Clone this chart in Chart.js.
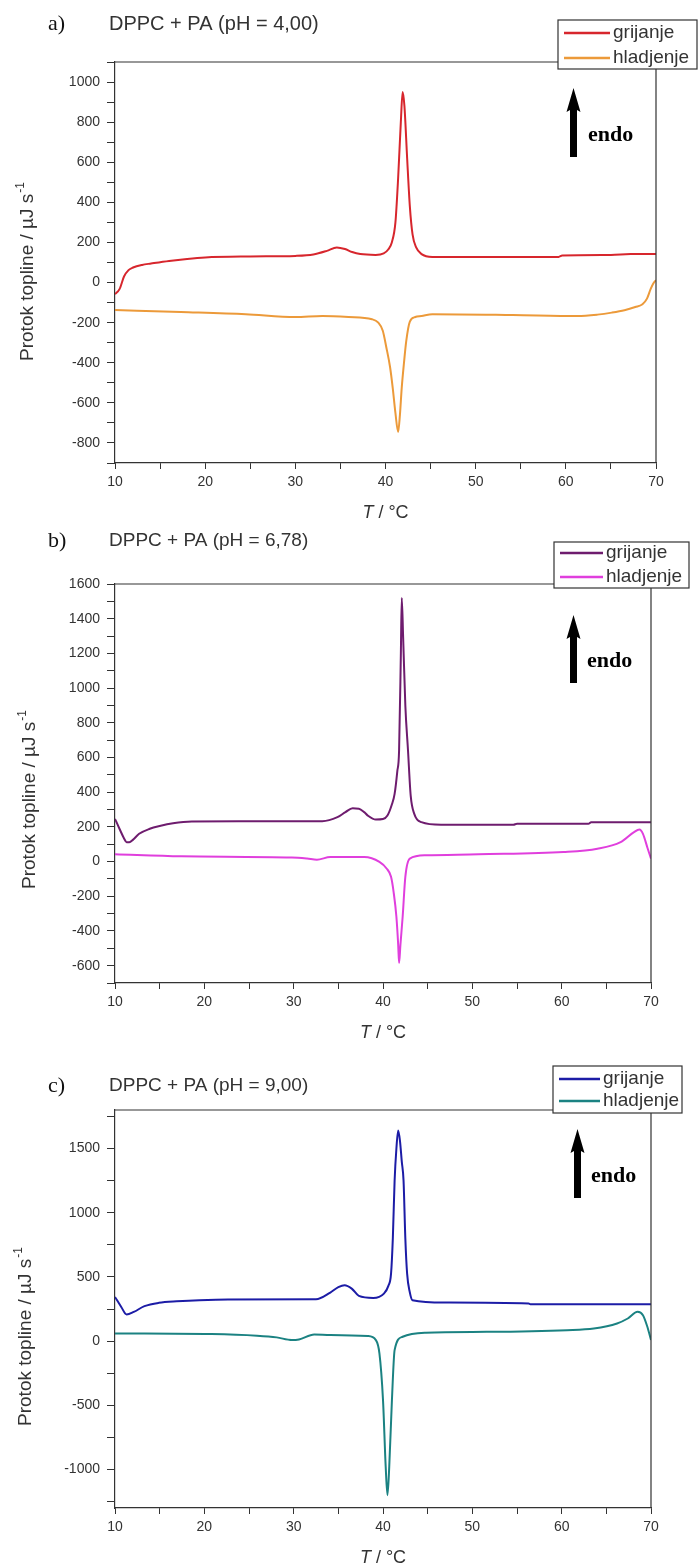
<!DOCTYPE html>
<html>
<head>
<meta charset="utf-8">
<script src="https://cdn.jsdelivr.net/npm/chart.js@4.4.0/dist/chart.umd.min.js"></script>
<style>
  body { margin: 0; background: #fff; }
  #wrap { position: relative; width: 699px; height: 1566px; }
  canvas { position: absolute; left: 0; }
</style>
</head>
<body>
<div id="wrap">
  <canvas id="chartA" width="699" height="522" style="top:0px"></canvas>
  <canvas id="chartB" width="699" height="522" style="top:522px"></canvas>
  <canvas id="chartC" width="699" height="522" style="top:1044px"></canvas>
</div>
<script>
// T / °C ticks, shared by all panels
var xTicks = [10, 15, 20, 25, 30, 35, 40, 45, 50, 55, 60, 65, 70];

// a) pH 4,00
var aHeatT = [10, 10.5, 11, 11.5, 12, 13, 14, 16, 18, 20, 25, 30, 32, 33.5, 34.6, 35.5, 36.3, 37.2, 38.9, 39.8, 40.3, 40.7, 41.1, 41.4, 41.7, 41.9, 42.1, 42.4, 42.7, 43, 43.4, 44, 45.2, 50, 59.2, 59.6, 65, 67.2, 70];
var aHeatQ = [-58, -33, 30, 62, 75, 88, 95, 108, 118, 125, 130, 133, 140, 158, 175, 167, 152, 142, 138, 145, 165, 200, 300, 520, 800, 950, 880, 620, 380, 240, 175, 142, 128, 127, 128, 135, 138, 142, 142];
var aCoolT = [10, 17.3, 24.5, 30, 33, 35.9, 38.5, 39.2, 39.7, 40.1, 40.5, 40.8, 41.1, 41.4, 41.6, 41.8, 42.05, 42.3, 42.7, 43.3, 44, 45.2, 54.1, 61.3, 63.5, 65.1, 66.5, 67.7, 68.5, 69, 69.4, 69.7, 70];
var aCoolQ = [-137, -147, -158, -172, -167, -172, -183, -200, -240, -325, -420, -525, -650, -745, -660, -525, -400, -292, -195, -172, -167, -158, -162, -167, -160, -150, -138, -122, -108, -80, -33, -5, 12];
var aYTicks = [-900, -800, -700, -600, -500, -400, -300, -200, -100, 0, 100, 200, 300, 400, 500, 600, 700, 800, 900, 1000, 1100];

// b) pH 6,78
var bHeatT = [10, 10.5, 11, 11.3, 11.6, 12, 12.7, 13.9, 15, 16.5, 18.6, 25, 33.2, 34.9, 35.8, 36.6, 37.3, 37.9, 38.3, 39.2, 40, 40.5, 41, 41.3, 41.6, 41.8, 42, 42.1, 42.25, 42.5, 42.8, 43.1, 43.5, 44.3, 46.5, 54.6, 55, 63, 63.3, 70];
var bHeatQ = [246, 189, 135, 112, 112, 125, 160, 189, 205, 221, 231, 232, 233, 256, 285, 307, 305, 285, 265, 242, 245, 265, 330, 390, 520, 640, 1200, 1520, 1300, 900, 640, 380, 275, 227, 212, 212, 218, 218, 227, 227];
var bCoolT = [10, 17.4, 29.8, 31.5, 32.6, 34.1, 37.9, 39.6, 40.4, 40.9, 41.2, 41.5, 41.7, 41.8, 41.95, 42.2, 42.5, 43, 44.8, 50.7, 60.2, 64, 66.6, 68.1, 68.7, 69.1, 69.6, 70];
var bCoolQ = [42, 30, 23, 17, 11, 26, 26, -2, -40, -88, -180, -318, -480, -585, -480, -318, -88, 17, 36, 42, 55, 74, 112, 170, 185, 160, 80, 17];
var bYTicks = [-700, -600, -500, -400, -300, -200, -100, 0, 100, 200, 300, 400, 500, 600, 700, 800, 900, 1000, 1100, 1200, 1300, 1400, 1500, 1600];

// c) pH 9,00
var cHeatT = [10, 10.7, 11.3, 12.1, 13.3, 14.9, 16.9, 21.3, 32.5, 34.1, 35, 35.7, 36.5, 37.3, 38.9, 40.1, 40.6, 40.9, 41.1, 41.3, 41.5, 41.7, 41.9, 42.1, 42.3, 42.5, 42.7, 43, 43.3, 46.9, 56.3, 56.5, 70];
var cHeatQ = [344, 266, 207, 227, 272, 298, 310, 323, 326, 378, 420, 435, 409, 352, 336, 370, 430, 525, 800, 1250, 1500, 1640, 1560, 1400, 1250, 800, 525, 380, 318, 300, 292, 287, 287];
var cCoolT = [10, 20.8, 25.9, 28.1, 29.8, 30.6, 32.3, 34.1, 38.3, 39.2, 39.6, 40, 40.3, 40.5, 40.7, 41, 41.3, 42.2, 44.8, 51.6, 60.6, 63.6, 66.2, 67.4, 68.5, 69.1, 69.6, 70];
var cCoolQ = [60, 55, 42, 29, 8, 13, 52, 47, 39, 8, -96, -458, -976, -1200, -976, -458, -70, 34, 65, 72, 85, 98, 137, 176, 228, 202, 110, 8];
var cYTicks = [-1250, -1000, -750, -500, -250, 0, 250, 500, 750, 1000, 1250, 1500, 1750];

var seriesNames = ['grijanje', 'hladjenje'];

function pts(ts, qs) {
  return ts.map((t, i) => ({ x: t, y: qs[i] }));
}

// titles, frame, legend box and the "endo" arrow
const decorPlugin = {
  id: 'decor',
  afterDraw(chart, args, o) {
    const ctx = chart.ctx;
    const a = chart.chartArea;
    ctx.save();

    ctx.strokeStyle = '#333';
    ctx.lineWidth = 1.2;
    ctx.beginPath();
    ctx.moveTo(a.left, a.top);
    ctx.lineTo(a.right, a.top);
    ctx.lineTo(a.right, a.bottom);
    ctx.stroke();

    ctx.textBaseline = 'middle';
    ctx.textAlign = 'left';
    ctx.fillStyle = '#111';
    ctx.font = '22px "Liberation Serif"';
    ctx.fillText(o.label, 48, o.titleY);
    ctx.fillStyle = '#333';
    ctx.font = o.titleSize + 'px "Liberation Sans"';
    ctx.fillText(o.title, 109, o.titleY);

    // x title, T in italics
    ctx.font = 'italic 18px "Liberation Sans"';
    let w1 = ctx.measureText('T').width;
    ctx.font = '18px "Liberation Sans"';
    let w2 = ctx.measureText(' / °C').width;
    let x0 = (a.left + a.right) / 2 - (w1 + w2) / 2;
    ctx.font = 'italic 18px "Liberation Sans"';
    ctx.fillText('T', x0, o.xTitleY);
    ctx.font = '18px "Liberation Sans"';
    ctx.fillText(' / °C', x0 + w1, o.xTitleY);

    // y title with superscript
    ctx.save();
    ctx.translate(o.yTitleX, o.yTitleY);
    ctx.rotate(-Math.PI / 2);
    ctx.font = '19px "Liberation Sans"';
    let main = 'Protok topline / µJ s';
    let mw = ctx.measureText(main).width;
    ctx.font = '12px "Liberation Sans"';
    let sw = ctx.measureText('-1').width;
    let sx = -(mw + sw) / 2;
    ctx.font = '19px "Liberation Sans"';
    ctx.fillText(main, sx, 0);
    ctx.font = '12px "Liberation Sans"';
    ctx.fillText('-1', sx + mw + 1, -7);
    ctx.restore();

    // legend
    const L = o.legend;
    ctx.fillStyle = '#fff';
    ctx.fillRect(L.x, L.y, L.w, L.h);
    ctx.strokeStyle = '#333';
    ctx.lineWidth = 1.2;
    ctx.strokeRect(L.x, L.y, L.w, L.h);
    ctx.font = '19px "Liberation Sans"';
    chart.data.datasets.forEach((ds, i) => {
      let ry = L.y + L.rows[i];
      ctx.strokeStyle = ds.borderColor;
      ctx.lineWidth = 2.5;
      ctx.beginPath();
      ctx.moveTo(L.x + 6, ry);
      ctx.lineTo(L.x + L.sw, ry);
      ctx.stroke();
      ctx.fillStyle = '#333';
      ctx.fillText(ds.label, L.x + L.sw + 3, ry);
    });

    // endo arrow
    const E = o.arrow;
    ctx.fillStyle = '#000';
    ctx.beginPath();
    ctx.moveTo(E.x, E.tip);
    ctx.lineTo(E.x + 7, E.tip + 24);
    ctx.lineTo(E.x + 3.5, E.tip + 22);
    ctx.lineTo(E.x + 3.5, E.bottom);
    ctx.lineTo(E.x - 3.5, E.bottom);
    ctx.lineTo(E.x - 3.5, E.tip + 22);
    ctx.lineTo(E.x - 7, E.tip + 24);
    ctx.closePath();
    ctx.fill();
    ctx.font = 'bold 22px "Liberation Serif"';
    ctx.textBaseline = 'alphabetic';
    ctx.fillText('endo', E.textX, E.textY);

    ctx.restore();
  }
};

function makePanel(id, heat, cool, colors, yMin, yMax, yTicks, labelStep, pad, decor) {
  return new Chart(document.getElementById(id), {
    type: 'line',
    data: {
      datasets: [
        { label: seriesNames[0], data: heat, borderColor: colors[0], borderWidth: 2, pointRadius: 0, tension: 0.4, cubicInterpolationMode: 'monotone', fill: false },
        { label: seriesNames[1], data: cool, borderColor: colors[1], borderWidth: 2, pointRadius: 0, tension: 0.4, cubicInterpolationMode: 'monotone', fill: false }
      ]
    },
    options: {
      responsive: false,
      animation: false,
      layout: { padding: pad },
      plugins: { legend: { display: false }, tooltip: { enabled: false }, decor: decor },
      scales: {
        x: {
          type: 'linear', min: 10, max: 70,
          afterBuildTicks: (s) => { s.ticks = xTicks.map(v => ({ value: v })); },
          afterFit: (s) => { s.height = 40; },
          grid: { drawOnChartArea: false, drawTicks: true, tickLength: 6, color: '#333' },
          border: { display: true, color: '#333', width: 1.2 },
          ticks: { autoSkip: false, maxRotation: 0, padding: 5, color: '#333',
            font: { family: 'Liberation Sans', size: 14 },
            callback: (v) => (v % 10 === 0 ? String(v) : '') }
        },
        y: {
          min: yMin, max: yMax,
          afterBuildTicks: (s) => { s.ticks = yTicks.map(v => ({ value: v })); },
          afterFit: (s) => { s.width = 115; },
          grid: { drawOnChartArea: false, drawTicks: true, tickLength: 8, color: '#333' },
          border: { display: true, color: '#333', width: 1.2 },
          ticks: { autoSkip: false, padding: 7, color: '#333',
            font: { family: 'Liberation Sans', size: 14 },
            callback: (v) => (v % labelStep === 0 ? String(v) : '') }
        }
      }
    },
    plugins: [decorPlugin]
  });
}

makePanel('chartA', pts(aHeatT, aHeatQ), pts(aCoolT, aCoolQ), ['#d7262d', '#ec9a3a'],
  -900, 1100, aYTicks, 200,
  { left: 0, top: 62, right: 43, bottom: 19 },
  { label: 'a)', title: 'DPPC + PA (pH = 4,00)', titleSize: 20, titleY: 24,
    xTitleY: 513, yTitleX: 28, yTitleY: 272,
    legend: { x: 558, y: 20, w: 139, h: 49, sw: 52, rows: [13, 38] },
    arrow: { x: 573.5, tip: 88, bottom: 157, textX: 588, textY: 141 } });

makePanel('chartB', pts(bHeatT, bHeatQ), pts(bCoolT, bCoolQ), ['#6e1c6e', '#e03fdd'],
  -700, 1600, bYTicks, 200,
  { left: 0, top: 62, right: 48, bottom: 21 },
  { label: 'b)', title: 'DPPC + PA (pH = 6,78)', titleSize: 19, titleY: 19,
    xTitleY: 511, yTitleX: 30, yTitleY: 278,
    legend: { x: 554, y: 20, w: 135, h: 46, sw: 49, rows: [11, 35] },
    arrow: { x: 573.5, tip: 93, bottom: 161, textX: 587, textY: 145 } });

makePanel('chartC', pts(cHeatT, cHeatQ), pts(cCoolT, cCoolQ), ['#1c1ca6', '#1b8282'],
  -1300, 1800, cYTicks, 500,
  { left: 0, top: 66, right: 48, bottom: 18 },
  { label: 'c)', title: 'DPPC + PA (pH = 9,00)', titleSize: 19, titleY: 42,
    xTitleY: 514, yTitleX: 26, yTitleY: 293,
    legend: { x: 553, y: 22, w: 129, h: 47, sw: 47, rows: [13, 35] },
    arrow: { x: 577.5, tip: 85, bottom: 154, textX: 591, textY: 138 } });
</script>
</body>
</html>
